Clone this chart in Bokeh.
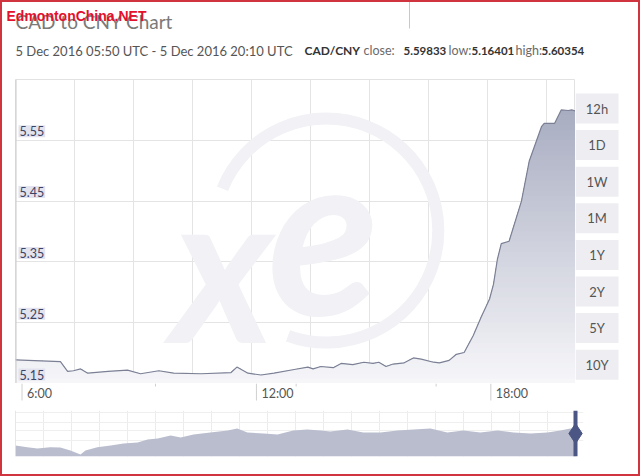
import numpy as np
import pandas as pd
from bokeh.plotting import figure
from bokeh.layouts import column, row
from bokeh.models import FixedTicker, Grid, Label, Span, Range1d
from bokeh.core.properties import value
from bokeh.embed import file_html
from bokeh.resources import INLINE

# ---------------- data ----------------
day = "2016-12-05"
start_time = "05:50"
end_time = "20:10"
times = ["05:50", "06:59", "07:10", "07:19", "07:30", "07:41", "08:12", "08:42", "09:02",
         "09:30", "09:53", "10:35", "11:21", "11:30", "11:47", "12:07", "12:27", "12:58",
         "13:19", "13:27", "13:39", "13:58", "14:10", "14:28", "14:45", "14:59", "15:08",
         "15:19", "15:30", "15:47", "16:01", "16:13", "16:32", "16:41", "16:56", "17:07",
         "17:19", "17:33", "17:45", "17:58", "18:04", "18:10", "18:16", "18:28", "18:47",
         "18:59", "19:18", "19:22", "19:38", "19:48", "19:59", "20:04", "20:10"]
rates = [5.189, 5.186, 5.170, 5.171, 5.174, 5.167, 5.170, 5.172, 5.166,
         5.171, 5.167, 5.166, 5.168, 5.177, 5.167, 5.164, 5.167, 5.173,
         5.177, 5.174, 5.178, 5.176, 5.183, 5.181, 5.185, 5.183, 5.185,
         5.178, 5.182, 5.184, 5.192, 5.190, 5.185, 5.184, 5.188, 5.198,
         5.201, 5.229, 5.259, 5.289, 5.313, 5.354, 5.380, 5.384, 5.450,
         5.516, 5.573, 5.578, 5.578, 5.600, 5.599, 5.600, 5.598]
y_ticks = [5.15, 5.25, 5.35, 5.45, 5.55]
y_tick_labels = ["5.15", "5.25", "5.35", "5.45", "5.55"]
x_tick_times = ["06:00", "12:00", "18:00"]
x_tick_labels = ["6:00", "12:00", "18:00"]
x_minor_times = ["09:25", "13:01", "16:36"]
buttons = ["12h", "1D", "1W", "1M", "1Y", "2Y", "5Y", "10Y"]

title_text = "CAD to CNY Chart"
site_text = "EdmontonChina.NET"
period_text = "5 Dec 2016 05:50 UTC - 5 Dec 2016 20:10 UTC"
pair_text = "CAD/CNY"
stat_names = ["close:", "low:", "high:"]
stat_values = ["5.59833", "5.16401", "5.60354"]

nav_years = [2006.93, 2007.14, 2007.32, 2007.55, 2007.73, 2007.91, 2008.09, 2008.18, 2008.39,
             2008.63, 2008.86, 2009.11, 2009.29, 2009.47, 2009.70, 2009.88, 2010.11, 2010.41,
             2010.72, 2010.89, 2011.07, 2011.36, 2011.61, 2011.89, 2012.14, 2012.38, 2012.55,
             2012.86, 2013.14, 2013.45, 2013.75, 2014.04, 2014.34, 2014.64, 2014.93, 2015.23,
             2015.54, 2015.82, 2016.13, 2016.43, 2016.66, 2016.84, 2016.93]
nav_rates = [4.920, 4.901, 4.887, 4.901, 4.898, 4.865, 4.822, 4.865, 4.901,
             4.920, 4.941, 4.952, 4.985, 4.996, 5.028, 5.007, 5.039, 5.061,
             5.083, 5.104, 5.061, 5.050, 5.039, 5.083, 5.093, 5.083, 5.072,
             5.093, 5.061, 5.061, 5.083, 5.093, 5.104, 5.061, 5.083, 5.061,
             5.083, 5.061, 5.050, 5.061, 5.083, 5.104, 5.098]

FONT = "Lato"


def ms(t):
    return pd.Timestamp(f"{day} {t}").value / 1e6


def bare(fig):
    fig.xgrid.visible = False
    fig.ygrid.visible = False
    fig.outline_line_color = None
    fig.background_fill_color = "white"
    fig.border_fill_color = "white"
    fig.frame_align = False
    return fig


t_ms = np.array([ms(t) for t in times])
r = np.array(rates)
x0, x1 = ms(start_time), ms(end_time)
y0, y1 = 5.15, 5.65

# ---------------- header ----------------
hdr = bare(figure(width=640, height=79, x_range=Range1d(0, 640), y_range=Range1d(79, 0),
                  x_axis_location=None, y_axis_location=None, toolbar_location=None,
                  output_backend="svg", min_border=0))


def htext(x, y, text, size, color, style="normal", font=FONT):
    hdr.text(x=[x], y=[y], text=[text], text_font=value(font), text_font_size=size,
             text_color=color, text_font_style=style, text_baseline="middle", text_align="left")


htext(15, 21, title_text, "19px", "#7a7a7a")
htext(6, 15, site_text, "14px", "#e3112c", "bold", "Liberation Sans")
htext(15, 50, period_text, "13px", "#555555")
htext(304, 50, pair_text, "12px", "#333333", "bold")
for xn, xv, n, v in zip([363, 448, 515], [403, 471, 541], stat_names, stat_values):
    htext(xn, 50, n, "12.5px", "#6a6a6a")
    htext(xv, 50, v, "11.5px", "#333333", "bold")
hdr.segment(x0=[409], y0=[0], x1=[409], y1=[28], line_color="#c8c8c8", line_width=1)

# ---------------- main chart ----------------
p = bare(figure(width=575, height=304, x_range=Range1d(x0, x1), y_range=Range1d(y0, y1),
                x_axis_location=None, y_axis_location=None, toolbar_location=None,
                output_backend="svg", min_border_left=15, min_border_right=0,
                min_border_top=0, min_border_bottom=0))
p.outline_line_color = "#e2e2e2"

grid_step = (x1 - x0) * 59.0 / 560.0
xgrid_ticks = list(np.arange(x0 + grid_step, x1, grid_step))
p.add_layout(Grid(dimension=0, ticker=FixedTicker(ticks=xgrid_ticks), grid_line_color="#e4e4e4"))
p.add_layout(Grid(dimension=1, ticker=FixedTicker(ticks=y_ticks[1:]), grid_line_color="#e4e4e4"))

# watermark (xe logo)
wm = "#f1f1f6"
p.arc(x=[x0 + 0.555 * (x1 - x0)], y=[y0 + 0.503 * (y1 - y0)], radius=112, radius_units="screen",
      start_angle=np.radians(-110), end_angle=np.radians(158), direction="anticlock",
      line_color=wm, line_width=12)
p.text(x=[x0 + 0.55 * (x1 - x0)], y=[y0 + 0.50 * (y1 - y0)], text=["e"],
       text_font=value("Lato"), text_font_style="bold italic", text_font_size="230px",
       text_align="center", text_baseline="middle", text_color=wm)
p.text(x=[x0 + 0.37 * (x1 - x0)], y=[y0 + 0.40 * (y1 - y0)], text=["x"],
       text_font=value("Lato"), text_font_style="bold italic", text_font_size="210px",
       text_align="center", text_baseline="middle", text_color=wm)

# gradient area fill: overlapping bands, from the top band down
dense_t = np.linspace(t_ms[0], t_ms[-1], 1500)
dense_r = np.interp(dense_t, t_ms, r)
top_c = np.array([160, 165, 187])
bot_c = np.array([247, 247, 250])
n_b = 60
edges = np.linspace(y0, y1, n_b + 1)
for k in range(n_b - 1, -1, -1):
    lo, hi = edges[k], edges[k + 1]
    if dense_r.max() <= lo:
        continue
    f = (0.5 * (lo + hi) - y0) / (y1 - y0)
    c = (bot_c + (top_c - bot_c) * f).astype(int)
    p.varea(x=dense_t, y1=np.full_like(dense_r, y0), y2=np.minimum(dense_r, hi),
            fill_color="#%02x%02x%02x" % tuple(c), fill_alpha=1.0)

p.line(t_ms, r, line_color="#7b8095", line_width=1.2)
p.add_layout(Span(location=x0, dimension="height", line_color="#c9c9c9", line_width=2))
p.add_layout(Span(location=y0, dimension="width", line_color="#cccccc", line_width=1))

# y tick labels inside the plot
for v, lab in zip(y_ticks, y_tick_labels):
    p.add_layout(Label(x=x0, y=v, text=lab, x_offset=3, y_offset=3,
                       text_font=FONT, text_font_size="12.5px", text_color="#3c4263",
                       text_baseline="bottom", text_align="left",
                       background_fill_color="#e2e3ee", padding=1))

# ---------------- x axis strip (shares the time scale) ----------------
xl = bare(figure(width=575, height=20, x_range=p.x_range, y_range=Range1d(403, 383),
                 x_axis_location=None, y_axis_location=None, toolbar_location=None,
                 output_backend="svg", min_border_left=15, min_border_right=0,
                 min_border_top=0, min_border_bottom=0))
tick_ms = [ms(t) for t in x_tick_times]
minor_ms = [ms(t) for t in x_minor_times]
xl.segment(x0=tick_ms, y0=[383] * 3, x1=tick_ms, y1=[400] * 3, line_color="#d0d0d0", line_width=1)
xl.segment(x0=minor_ms, y0=[383] * 3, x1=minor_ms, y1=[386] * 3, line_color="#d0d0d0", line_width=1)
xl.text(x=tick_ms, y=[393] * 3, text=x_tick_labels, x_offset=5,
        text_font=value(FONT), text_font_size="12.5px", text_color="#555555",
        text_baseline="middle", text_align="left")

# ---------------- range buttons ----------------
btn = bare(figure(width=65, height=324, x_range=Range1d(575, 640), y_range=Range1d(403, 79),
                  x_axis_location=None, y_axis_location=None, toolbar_location=None,
                  output_backend="svg", min_border=0))
tops = [93 + 36.6 * i for i in range(len(buttons))]
btn.quad(left=[575] * len(buttons), right=[618] * len(buttons), top=tops,
         bottom=[t + 30 for t in tops], fill_color="#eeeef2", line_color=None)
btn.text(x=[596.5] * len(buttons), y=[t + 15 for t in tops], text=buttons,
         text_font=value(FONT), text_font_size="13px", text_color="#555555",
         text_align="center", text_baseline="middle")

# ---------------- navigator ----------------
nx0 = nav_years[0]
nx1 = nav_years[0] + (nav_years[-1] - nav_years[0]) * 568.0 / 560.0
ny0, ny1 = 4.80, 5.30
nav = bare(figure(width=640, height=73, x_range=Range1d(nx0, nx1), y_range=Range1d(ny0, ny1),
                  x_axis_location=None, y_axis_location=None,
                  toolbar_location=None, output_backend="svg",
                  min_border_left=15, min_border_right=57, min_border_top=7, min_border_bottom=20))
nav.add_layout(Grid(dimension=0, ticker=FixedTicker(ticks=list(np.arange(nx0 + 0.5, nav_years[-1], 0.5))),
                    grid_line_color="#ececec"))
nav.add_layout(Grid(dimension=1, ticker=FixedTicker(ticks=[4.97, 5.08, 5.17, 5.28]),
                    grid_line_color="#efefef"))
nav.varea(x=nav_years, y1=[ny0] * len(nav_years), y2=nav_rates, fill_color="#b9bdcd")
nav.add_layout(Span(location=nx0, dimension="height", line_color="#cfcfcf", line_width=1))
nav.add_layout(Span(location=nav_years[-1], dimension="height", line_color="#4b5684", line_width=4))
nav.scatter(x=[nav_years[-1]], y=[(ny0 + ny1) / 2], marker="diamond", size=20,
            fill_color="#4b5684", line_color="#4b5684")

frame_css = (":host::after { content: ''; position: absolute; left: 0; top: 0; "
             "width: 640px; height: 476px; box-sizing: border-box; "
             "border: 2px solid #d0343f; pointer-events: none; z-index: 50; }")
layout = column(hdr, row(column(p, xl, spacing=0), btn, spacing=0), nav, spacing=0,
                stylesheets=[frame_css])

open("out.html", "w").write(file_html(layout, INLINE))
